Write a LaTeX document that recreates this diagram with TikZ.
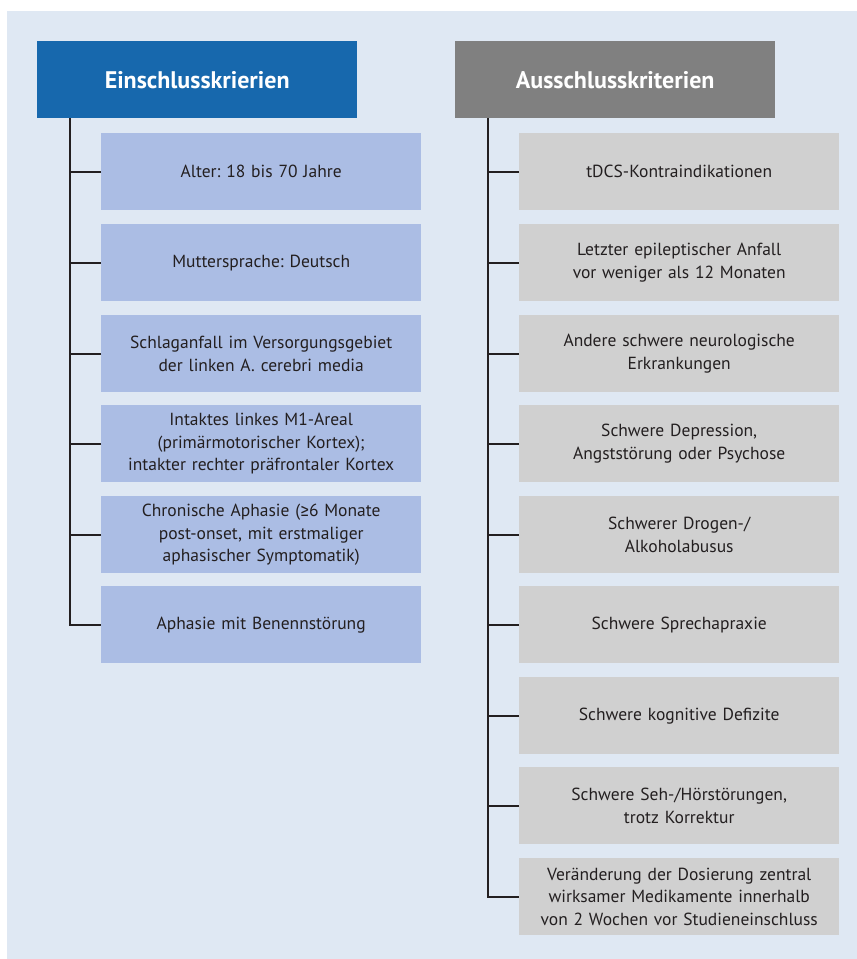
\documentclass[tikz,border=0pt]{standalone}
\usepackage{fontspec}
\setmainfont[WordSpace=0.8]{PT Sans}
\newfontfamily\symfont{Fira Sans}
\frenchspacing
\definecolor{bgc}{HTML}{DFE8F3}
\definecolor{hblue}{HTML}{1768AD}
\definecolor{lblue}{HTML}{ABBDE4}
\definecolor{hgray}{HTML}{808080}
\definecolor{lgray}{HTML}{D0D0D0}
\definecolor{txt}{HTML}{231F20}
\tikzset{
  hdr/.style={minimum width=320pt, minimum height=77pt, inner sep=0pt, text=white,
    font=\fontsize{24pt}{28pt}\selectfont\bfseries, anchor=north west},
  item/.style={minimum width=320pt, minimum height=77pt, inner sep=0pt, text=txt, align=center,
    font=\fontsize{17.5pt}{22.8pt}\selectfont, anchor=north west, text width=314pt},
  conn/.style={line width=2pt, draw=txt},
}
\begin{document}
\begin{tikzpicture}[x=1pt,y=-1pt]
\useasboundingbox (0,0) rectangle (857,959);
\fill[white] (0,0) rectangle (857,959);
\fill[bgc] (7,11) rectangle (857,959);
% left column
\node[hdr, fill=hblue] (lh) at (37,41) {Einschlusskrierien};
\node[item, fill=lblue] (l1) at (101,133) {Alter: 18 bis 70 Jahre};
\node[item, fill=lblue] (l2) at (101,224) {Muttersprache: Deutsch};
\node[item, fill=lblue] (l3) at (101,315) {Schlaganfall im Versorgungsgebiet\\der linken A. cerebri media};
\node[item, fill=lblue] (l4) at (101,405) {Intaktes linkes M1-Areal\\(primärmotorischer Kortex);\\intakter rechter präfrontaler Kortex};
\node[item, fill=lblue] (l5) at (101,496) {Chronische Aphasie ({\symfont ≥}6 Monate\\post-onset, mit erstmaliger\\aphasischer Symptomatik)};
\node[item, fill=lblue] (l6) at (101,586) {Aphasie mit Benennstörung};
\coordinate (lv) at (70,118);
\draw[conn] (lv) |- (l6.west);
\foreach \i in {1,...,5} \draw[conn] (l\i.west) -- (l\i.west -| lv);
% right column
\node[hdr, fill=hgray] (rh) at (455,41) {Ausschlusskriterien};
\node[item, fill=lgray] (r1) at (519,133) {tDCS-Kontraindikationen};
\node[item, fill=lgray] (r2) at (519,224) {Letzter epileptischer Anfall\\vor weniger als 12 Monaten};
\node[item, fill=lgray] (r3) at (519,315) {Andere schwere neurologische\\Erkrankungen};
\node[item, fill=lgray] (r4) at (519,405) {Schwere Depression,\\Angststörung oder Psychose};
\node[item, fill=lgray] (r5) at (519,496) {Schwerer Drogen-/\\Alkoholabusus};
\node[item, fill=lgray] (r6) at (519,586) {Schwere Sprechapraxie};
\node[item, fill=lgray] (r7) at (519,677) {Schwere kognitive Defizite};
\node[item, fill=lgray] (r8) at (519,767) {Schwere Seh-/Hörstörungen,\\trotz Korrektur};
\node[item, fill=lgray] (r9) at (519,858) {Veränderung der Dosierung zentral\\wirksamer Medikamente innerhalb\\von 2 Wochen vor Studieneinschluss};
\coordinate (rv) at (488,118);
\draw[conn] (rv) |- (r9.west);
\foreach \i in {1,...,8} \draw[conn] (r\i.west) -- (r\i.west -| rv);
\end{tikzpicture}
\end{document}
